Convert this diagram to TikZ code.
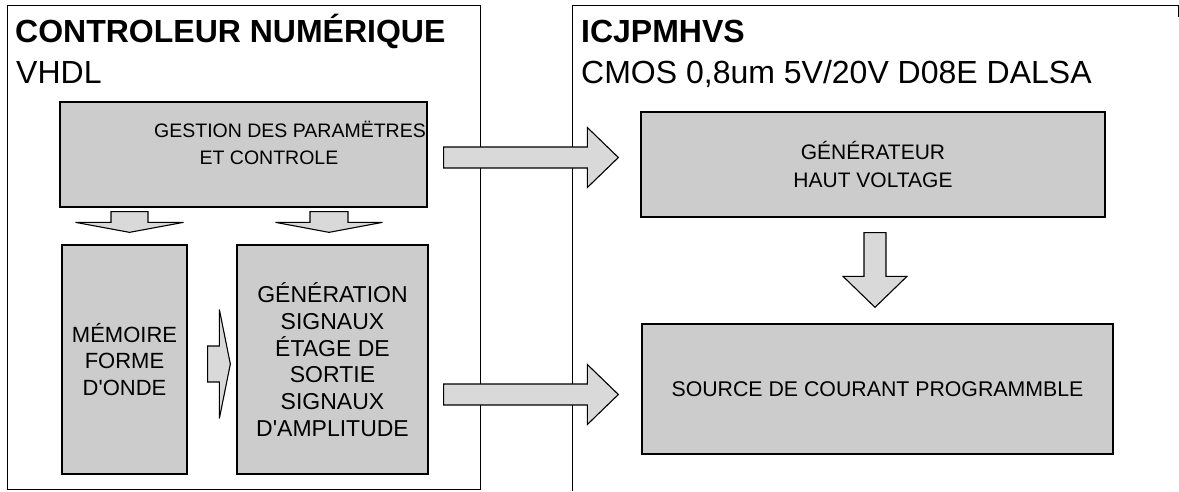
\documentclass[tikz,border=0pt]{standalone}
\usepackage{fontspec}
\setmainfont{Liberation Sans}
\newfontfamily\plainsans{Liberation Sans}
\usetikzlibrary{calc}
\tikzset{
  box/.style={draw=black, line width=1.3pt, fill=black!20, inner sep=0pt, align=center},
  boxtext/.style={inner sep=0pt, align=center},
  barrow/.style={draw=black, line width=1.1pt, fill=black!15, line join=miter},
  panel/.style={draw=black, line width=0.9pt},
  titletext/.style={font=\fontsize{32}{38}\selectfont\bfseries, anchor=base west, inner sep=0pt},
  subtext/.style={font=\fontsize{32}{38}\selectfont, anchor=base west, inner sep=0pt},
}
% right-pointing block arrow: #1 start of shaft, #2 tip, #3 shaft half, #4 head half, #5 head length
\newcommand\blockR[5]{%
  \draw[barrow] let \p1=(#1), \p2=(#2) in
    (\x1,\y1+#3) -- (\x2-#5,\y1+#3) -- (\x2-#5,\y1+#4) -- (\x2,\y1) --
    (\x2-#5,\y1-#4) -- (\x2-#5,\y1-#3) -- (\x1,\y1-#3) -- cycle;}
% down-pointing block arrow
\newcommand\blockD[5]{%
  \draw[barrow] let \p1=(#1), \p2=(#2) in
    (\x1-#3,\y1) -- (\x1+#3,\y1) -- (\x1+#3,\y2+#5) -- (\x1+#4,\y2+#5) -- (\x1,\y2) --
    (\x1-#4,\y2+#5) -- (\x1-#3,\y2+#5) -- cycle;}
\begin{document}
\begin{tikzpicture}[x=1pt,y=-1pt]
\useasboundingbox[fill=white] (0,0) rectangle (1179,491);

% panels
\node[panel, minimum width=473pt, minimum height=484pt, inner sep=0pt] (lpanel) at (243.5,247) {};
\coordinate (rpa) at (572,491);
\coordinate (rpb) at (572,5);
\coordinate (rpc) at (1178,5);
\coordinate (rpd) at (1178,17);
\draw[panel] (rpa) -- (rpb) -- (rpc) -- (rpd);

% titles
\node[titletext] (t1) at (15,42) {CONTROLEUR NUMÉRIQUE};
\node[subtext] (t2) at (16,83) {VHDL};
\node[titletext] (t3) at (581,42) {ICJPMHVS};
\node[subtext] (t4) at (581,83) {CMOS 0,8um 5V/20V D08E DALSA};

% boxes
\node[box, minimum width=367pt, minimum height=105pt] (gestion) at (243.5,154.5) {};
\node[boxtext, font=\plainsans\fontsize{19.5}{27}\selectfont] (gestiontxt) at (290,143)
  {GESTION DES PARAMËTRES\\ET CONTROLE\hspace*{42pt}};
\node[box, minimum width=125pt, minimum height=229pt,
      font=\plainsans\fontsize{22}{26.7}\selectfont] (memoire) at (124.5,359.5)
  {MÉMOIRE\\FORME\\D'ONDE};
\node[box, minimum width=191pt, minimum height=229pt,
      font=\plainsans\fontsize{23}{26.7}\selectfont] (generation) at (332.5,359.5)
  {GÉNÉRATION\\SIGNAUX\\ÉTAGE DE\\SORTIE\\SIGNAUX\\D'AMPLITUDE};
\node[box, minimum width=464pt, minimum height=105pt,
      font=\plainsans\fontsize{21}{28}\selectfont] (generateur) at (873,164.5)
  {GÉNÉRATEUR\\HAUT VOLTAGE};
\node[box, minimum width=471pt, minimum height=130pt,
      font=\plainsans\fontsize{21.3}{26}\selectfont] (source) at (877.5,389)
  {SOURCE DE COURANT PROGRAMMBLE};

% arrows
\coordinate (a1s) at ($(gestion.east)+(16,3)$);
\coordinate (a1e) at ($(a1s -| generateur.west)+(-22,0)$);
\blockR{a1s}{a1e}{10.5pt}{30pt}{31pt}

\coordinate (a2s) at ($(generation.east)+(15,35)$);
\coordinate (a2e) at ($(a2s -| source.west)+(-23,0)$);
\blockR{a2s}{a2e}{10.5pt}{30pt}{31pt}

\coordinate (a3s) at ($(gestion.south)+(-114,4)$);
\coordinate (a3e) at ($(a3s |- memoire.north)+(0,-12)$);
\blockD{a3s}{a3e}{18.5pt}{54pt}{10pt}

\coordinate (a4s) at ($(gestion.south)+(85.5,4)$);
\coordinate (a4e) at ($(a4s |- generation.north)+(0,-12)$);
\blockD{a4s}{a4e}{19pt}{53.5pt}{10pt}

\coordinate (a5s) at ($(memoire.east)+(20,4.5)$);
\coordinate (a5e) at ($(a5s -| generation.west)+(-6,0)$);
\blockR{a5s}{a5e}{18pt}{54.5pt}{11pt}

\coordinate (a6s) at ($(generateur.south)+(2,15)$);
\coordinate (a6e) at ($(a6s |- source.north)+(0,-16)$);
\blockD{a6s}{a6e}{11pt}{32pt}{31pt}
\end{tikzpicture}
\end{document}
